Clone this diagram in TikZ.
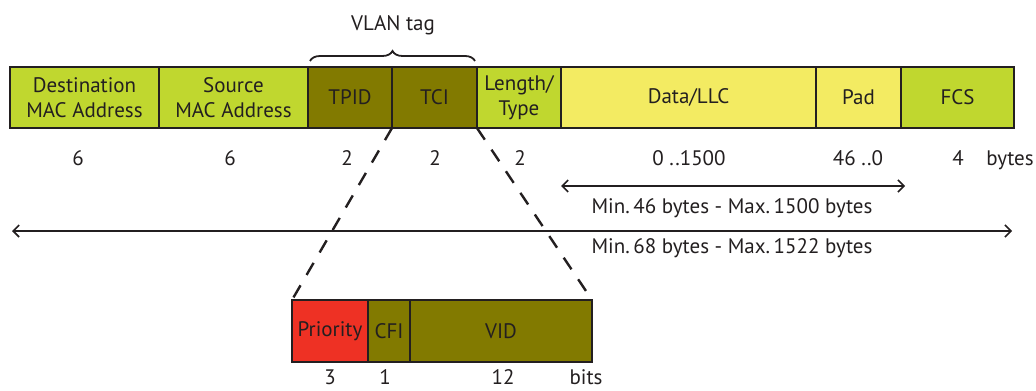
\documentclass[tikz,border=0pt]{standalone}
\usepackage{fontspec}
\setmainfont{PT Sans}
\usetikzlibrary{positioning,arrows.meta,decorations.pathreplacing}
\definecolor{fgreen}{HTML}{C0D72F}
\definecolor{folive}{HTML}{827A00}
\definecolor{fyellow}{HTML}{F3EB62}
\definecolor{fred}{HTML}{EE3124}
\definecolor{ink}{HTML}{231F20}

\begin{document}
\begin{tikzpicture}[
            x = 0.5pt, y = -0.5pt,
            every node/.style={font=\fontsize{10.5}{12.5}\selectfont, text=ink},
            field/.style={draw=ink, line width=1.3pt, rectangle, minimum height=30.5pt,
                inner sep=0pt, outer sep=0pt, align=center, anchor=west},
            size/.style={anchor=base},
            span/.style={draw=ink, line width=0.8pt, {Straight Barb[length=3pt]}-{Straight Barb[length=3pt]}},
            zoomline/.style={draw=ink, line width=1.2pt, dash pattern=on 7pt off 6pt},
            ]
        \useasboundingbox (0,0) rectangle (1036,390);

        % ethernet frame
        \node[field, fill=fgreen, minimum width=74.5pt] (dst) at (10,97.5) {Destination\\MAC Address};
        \node[field, fill=fgreen, minimum width=74.5pt, right=0pt of dst] (src) {Source\\MAC Address};
        \node[field, fill=folive, minimum width=42pt, right=0pt of src] (tpid) {TPID};
        \node[field, fill=folive, minimum width=42.5pt, right=0pt of tpid] (tci) {TCI};
        \node[field, fill=fgreen, minimum width=42pt, right=0pt of tci] (len) {Length/\\Type};
        \node[field, fill=fyellow, minimum width=127.5pt, right=0pt of len] (data) {Data/LLC};
        \node[field, fill=fyellow, minimum width=42.5pt, right=0pt of data] (pad) {Pad};
        \node[field, fill=fgreen, minimum width=56.5pt, right=0pt of pad] (fcs) {FCS};

        % vlan tag
        \draw[ink, line width=0.9pt, decorate, decoration={brace, amplitude=5pt, raise=3pt}]
            ([xshift=1pt]tpid.north west) -- ([xshift=-1pt]tci.north east);
        \node (vlan) at (393,25) {VLAN tag};

        % sizes in bytes
        \node[size] (n-dst) at (78,165) {6};
        \node[size] (n-src) at (230,165) {6};
        \node[size] (n-tpid) at (347,165) {2};
        \node[size] (n-tci) at (435,165) {2};
        \node[size] (n-len) at (520,165) {2};
        \node[size] (n-data) at (689,165) {0 ..1500};
        \node[size] (n-pad) at (858,165) {46 ..0};
        \node[size] (n-fcs) at (958,165) {4};
        \node[size] (n-unit) at (1010,165) {bytes};

        % payload and frame length
        \coordinate (pl) at (561,186);
        \coordinate (pr) at (905,186);
        \draw[span] (pl) -- (pr);
        \node[size] (payload) at (732,213) {Min.\,46 bytes - Max.\,1500 bytes};
        \coordinate (fl) at (12,231);
        \coordinate (fr) at (1012,231);
        \draw[span] (fl) -- (fr);
        \node[size] (frame) at (732,253) {Min.\,68 bytes - Max.\,1522 bytes};

        % tci fields
        \node[field, fill=fred, minimum width=38pt, minimum height=31pt] (pri) at (292,331) {Priority};
        \node[field, fill=folive, minimum width=21pt, minimum height=31pt, right=0pt of pri] (cfi) {CFI};
        \node[field, fill=folive, minimum width=91pt, minimum height=31pt, right=0pt of cfi] (vid) {VID};

        \draw[zoomline] (tci.south west) -- (pri.north west);
        \draw[zoomline] (tci.south east) -- (vid.north east);

        % sizes in bits
        \node[size, inner ysep=1pt] (b-pri) at (330,384) {3};
        \node[size, inner ysep=1pt] (b-cfi) at (385,384) {1};
        \node[size, inner ysep=1pt] (b-vid) at (503,384) {12};
        \node[size, inner ysep=1pt] (b-unit) at (586,384) {bits};
    \end{tikzpicture}
\end{document}
